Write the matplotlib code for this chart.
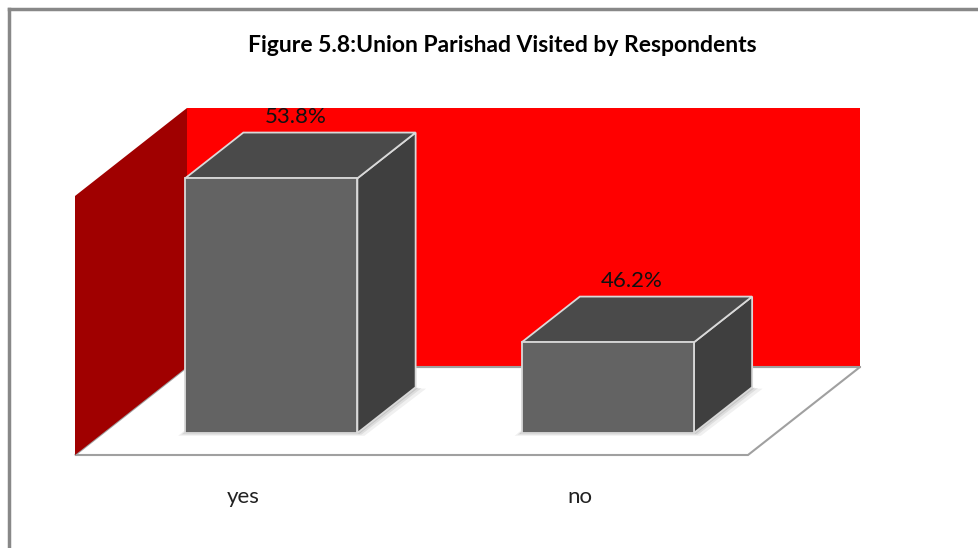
import matplotlib
matplotlib.use("Agg")
import matplotlib.pyplot as plt
from matplotlib.patches import Polygon
from matplotlib.transforms import IdentityTransform

# data
categories = ["yes", "no"]
values = [53.8, 46.2]
value_labels = ["53.8%", "46.2%"]
title = "Figure 5.8:Union Parishad Visited by Respondents"

y_min, y_max = 42, 54

W, H = 979, 548
fig = plt.figure(figsize=(W / 100, H / 100), dpi=100)
fig.patch.set_facecolor("white")

# front plane of the 3d box
ax = fig.add_axes([75 / W, 93 / H, 673 / W, 259 / H])
ax.set_xlim(-0.5, len(categories) - 0.5)
ax.set_ylim(y_min, y_max)
ax.axis("off")

# depth vector in pixels
DX, DY = 112, 88
ident = IdentityTransform()


def proj(x, y, d):
    px, py = ax.transData.transform((x, y))
    return (px + d * DX, py + d * DY)


def poly(pts, **kw):
    p = Polygon(pts, closed=True, transform=ident, clip_on=False, **kw)
    fig.add_artist(p)
    return p


x0, x1 = -0.5, len(categories) - 0.5
edge_gray = "#a0a0a0"

# floor
poly([proj(x0, y_min, 0), proj(x1, y_min, 0), proj(x1, y_min, 1), proj(x0, y_min, 1)],
     facecolor="white", edgecolor=edge_gray, lw=1.5, zorder=1)
# back wall
poly([proj(x0, y_min, 1), proj(x1, y_min, 1), proj(x1, y_max, 1), proj(x0, y_max, 1)],
     facecolor="#ff0000", edgecolor="none", zorder=2)
fig.add_artist(plt.Line2D(*zip(proj(x0, y_min, 1), proj(x1, y_min, 1)),
                          transform=ident, color=edge_gray, lw=1.5, zorder=2.5))
# left wall
poly([proj(x0, y_min, 0), proj(x0, y_max, 0), proj(x0, y_max, 1), proj(x0, y_min, 1)],
     facecolor="#a00000", edgecolor="none", zorder=3)

# bars
half_w = 0.256
d0, d1 = 0.25, 0.77
for i, (v, lab) in enumerate(zip(values, value_labels)):
    xl, xr = i - half_w, i + half_w
    # soft shadow on the floor
    for k, a in zip([7, 4, 2], [0.06, 0.08, 0.10]):
        pts = [proj(xl, y_min, d0), proj(xr, y_min, d0), proj(xr, y_min, d1), proj(xl, y_min, d1)]
        pts = [(pts[0][0] - k, pts[0][1] - k * 0.4), (pts[1][0] + k, pts[1][1] - k * 0.4),
               (pts[2][0] + k * 1.5, pts[2][1] - k * 0.2), (pts[3][0] - k, pts[3][1])]
        poly(pts, facecolor="black", alpha=a, edgecolor="none", zorder=4)
    # right side
    poly([proj(xr, y_min, d0), proj(xr, v, d0), proj(xr, v, d1), proj(xr, y_min, d1)],
         facecolor="#3f3f3f", edgecolor="#d9d9d9", lw=1.3, zorder=5)
    # top
    poly([proj(xl, v, d0), proj(xr, v, d0), proj(xr, v, d1), proj(xl, v, d1)],
         facecolor="#4a4a4a", edgecolor="#d9d9d9", lw=1.3, zorder=5)
    # front
    poly([proj(xl, y_min, d0), proj(xr, y_min, d0), proj(xr, v, d0), proj(xl, v, d0)],
         facecolor="#636363", edgecolor="#d9d9d9", lw=1.3, zorder=6)
    # value label
    lx, ly = proj(i, v, 0.51)
    fig.text(lx - 5, ly + 38, lab, transform=ident, ha="center", va="center",
             fontsize=16, family="Lato", color="#111111", zorder=7)
    # category label
    cx, cy = proj(i, y_min, 0)
    fig.text(cx, cy - 42, categories[i], transform=ident, ha="center", va="center",
             fontsize=16, family="Lato", color="#222222", zorder=7)

# title
fig.text(502 / W, 1 - 46 / H, title, ha="center", va="center",
         fontsize=16.5, fontweight="bold", family="Lato", color="black")

# chart frame (only top and left edges visible)
fig.add_artist(plt.Line2D([9 / W, 1.0], [1 - 9 / H, 1 - 9 / H], transform=fig.transFigure,
                          color="#888888", lw=2.5))
fig.add_artist(plt.Line2D([9 / W, 9 / W], [0, 1 - 9 / H], transform=fig.transFigure,
                          color="#888888", lw=2.5))

fig.savefig("out.png", dpi=100)
